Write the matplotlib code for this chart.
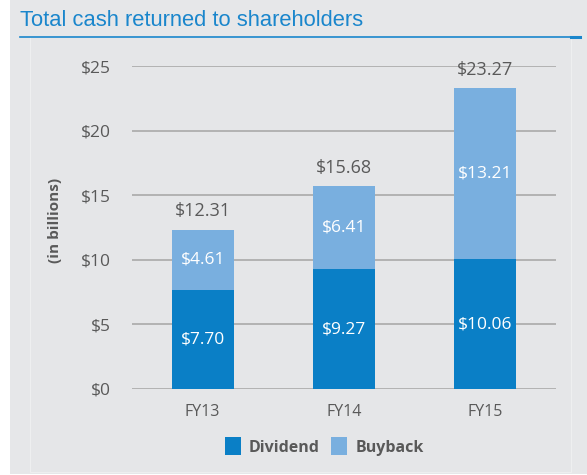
import matplotlib
matplotlib.use("Agg")
import matplotlib.pyplot as plt
from matplotlib.patches import Rectangle
from matplotlib.lines import Line2D

years = ["FY13", "FY14", "FY15"]
dividend = [7.70, 9.27, 10.06]
buyback = [4.61, 6.41, 13.21]
totals = [12.31, 15.68, 23.27]
yticks = [0, 5, 10, 15, 20, 25]

c_div = "#0a7fc6"
c_buy = "#79afdf"
bg = "#e6e7e9"
txt = "#595959"

plt.rcParams['font.family'] = ['Open Sans', 'DejaVu Sans']

fig = plt.figure(figsize=(5.87, 4.75), dpi=100)
fig.patch.set_facecolor("white")
W, H = 587, 475
fig.add_artist(Rectangle((10 / W, 1 / H), (W - 10) / W, (H - 1) / H, transform=fig.transFigure,
                         facecolor=bg, edgecolor="none", zorder=-10))
# inner panel faint outline
fig.add_artist(Rectangle((30 / W, 1 - 472 / H), (571 - 30) / W, (472 - 37) / H, transform=fig.transFigure,
                         facecolor="#e5e6e8", edgecolor="#eeeff0", lw=0.8, zorder=-9))

# title
fig.text(20 / W, 1 - 20 / H, "Total cash returned to shareholders", color="#1a86cc",
         fontsize=15.8, va="center", ha="left", family=["Liberation Sans", "DejaVu Sans"])
fig.add_artist(Line2D([20 / W, 573 / W], [1 - 36.5 / H, 1 - 36.5 / H], transform=fig.transFigure,
                      color="#1a86cc", lw=1.2))
fig.add_artist(Line2D([571 / W, 580 / W], [1 - 36.5 / H, 1 - 36.5 / H], transform=fig.transFigure,
                      color="#1a86cc", lw=2.2))

ax = fig.add_axes([132 / W, 1 - 389 / H, (556 - 132) / W, (389 - 66) / H])
ax.set_facecolor("none")
x = list(range(len(years)))
w = 0.44
ax.bar(x, dividend, w, color=c_div, zorder=3)
ax.bar(x, buyback, w, bottom=dividend, color=c_buy, zorder=3)
ax.set_xlim(-0.5, 2.5)
ax.set_ylim(0, 25)
ax.set_yticks(yticks)
ax.set_yticklabels([f"${v}" for v in yticks])
ax.yaxis.grid(True, color="#aeaeae", lw=1.3, zorder=1)
ax.set_axisbelow(True)
for s in ax.spines.values():
    s.set_visible(False)
ax.tick_params(axis="y", length=0, pad=15, labelsize=12.5, labelcolor=txt)
ax.set_xticks(x)
ax.set_xticklabels(years)
ax.tick_params(axis="x", length=0, pad=11, labelsize=11.5, labelcolor=txt)

for i in x:
    ax.text(i, dividend[i] / 2, f"${dividend[i]:.2f}", ha="center", va="center",
            color="white", fontsize=12.5, zorder=4)
    ax.text(i, dividend[i] + buyback[i] / 2, f"${buyback[i]:.2f}", ha="center", va="center",
            color="white", fontsize=12.5, zorder=4)
    ax.text(i, totals[i] + 1.45, f"${totals[i]:.2f}", ha="center", va="center",
            color=txt, fontsize=13, zorder=4)

fig.text(55 / W, 1 - 220 / H, "(in billions)", rotation=90, ha="center", va="center",
         color=txt, fontsize=11, fontweight="bold")

# legend
fig.add_artist(Rectangle((225 / W, 1 - 455 / H), 16 / W, 18 / H, transform=fig.transFigure,
                         facecolor=c_div, edgecolor="none"))
fig.text(249 / W, 1 - 448 / H, "Dividend", ha="left", va="center", color=txt,
         fontsize=11.5, fontweight="bold")
fig.add_artist(Rectangle((331 / W, 1 - 455 / H), 16 / W, 18 / H, transform=fig.transFigure,
                         facecolor=c_buy, edgecolor="none"))
fig.text(356 / W, 1 - 448 / H, "Buyback", ha="left", va="center", color=txt,
         fontsize=11.5, fontweight="bold")

fig.savefig("out.png", dpi=100, facecolor=fig.get_facecolor())
